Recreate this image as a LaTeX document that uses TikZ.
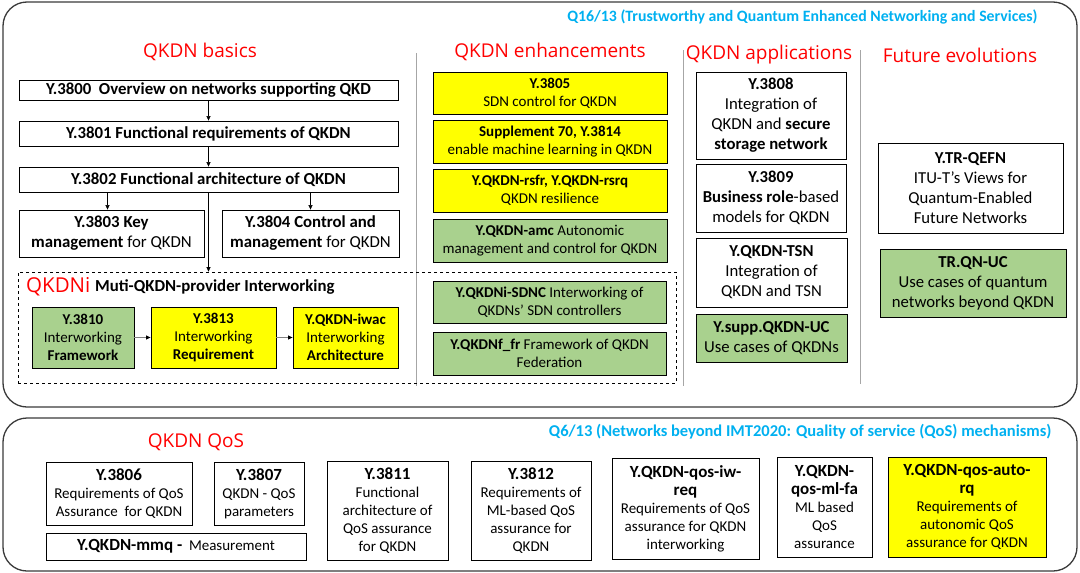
\documentclass[tikz,border=0pt]{standalone}
\usepackage{fontspec}
\setmainfont{Carlito}
\newfontfamily\hdfont{Open Sans}
\usetikzlibrary{arrows.meta,calc}
\definecolor{qyellow}{HTML}{FFFF00}
\definecolor{qgreen}{HTML}{A9D18E}
\definecolor{qblue}{HTML}{00B0F0}
\definecolor{qred}{HTML}{FF0000}
\definecolor{qframe}{HTML}{3A3A3A}
\definecolor{qsep}{HTML}{A6A6A6}
\newcommand\bx[7]{\node[#6, minimum width={#4-#2}, minimum height={#5-#3}] (#1) at ({(#2+#4)/2},{(#3+#5)/2}) {#7};}
\newcommand\qt[1]{{\fontsize{17}{18}\selectfont\textbf{#1}}}
\tikzset{
  box/.style={draw=black, line width=0.8pt, fill=white, inner sep=0pt, align=center},
  yel/.style={box, fill=qyellow},
  grn/.style={box, fill=qgreen},
  fone/.style={font=\fontsize{16.8}{20}\selectfont\bfseries},
  ftwo/.style={font=\fontsize{16.8}{20}\selectfont},
  fenh/.style={font=\fontsize{15}{18}\selectfont},
  fapp/.style={font=\fontsize{16.7}{20}\selectfont},
  fqos/.style={font=\fontsize{15}{18}\selectfont},
  hd/.style={text=qred, font=\hdfont\fontsize{19}{22}\selectfont},
  qtitle/.style={text=qblue, font=\fontsize{15.8}{17}\selectfont\bfseries, anchor=east},
  frame/.style={draw=qframe, line width=1.3pt, rounded corners=24pt},
  sep/.style={draw=qsep, line width=0.9pt},
  arr/.style={draw=black, line width=0.6pt, -{Triangle[length=4.5pt,width=4pt]}},
  garr/.style={draw=gray, line width=1pt, -{Triangle[length=4.5pt,width=4pt,black]}},
}
\begin{document}
\begin{tikzpicture}[x=1pt,y=-1pt]
\useasboundingbox (0,0) rectangle (1080,573);
% frames
\draw[frame] (3,2) rectangle (1077,407);
\draw[frame] (3,418) rectangle (1077,571);
\node[qtitle] (t16) at (1041,17) {Q16/13 (Trustworthy and Quantum Enhanced Networking and Services)};
\node[qtitle, font=\fontsize{16.5}{18}\selectfont\bfseries] (t6) at (1055,432) {Q6/13 (Networks beyond IMT2020: Quality of service (QoS) mechanisms)};
% separators
\draw[sep] (416,53) -- (416,386);
\draw[sep] (683,50) -- (683,386);
\draw[sep] (860,50) -- (860,384);
% headers
\node[hd] (hbasic) at (200,52) {QKDN basics};
\node[hd] (henh) at (550,52) {QKDN enhancements};
\node[hd] (happ) at (769,55) {QKDN applications};
\node[hd] (hfut) at (960,55) {Future evolutions};
\node[hd] (hqos) at (196,442) {QKDN QoS};
% basics
\bx{y3800}{19}{80}{398}{100}{box,fone}{Y.3800\ \ Overview on networks supporting QKD}
\bx{y3801}{19}{121}{398}{146}{box,fone}{Y.3801 Functional requirements of QKDN}
\bx{y3802}{19}{167}{398}{192}{box,fone}{Y.3802 Functional architecture of QKDN}
\bx{y3803}{19}{210}{204}{257}{box,ftwo}{\textbf{Y.3803 Key}\\\textbf{management} for QKDN}
\bx{y3804}{222}{210}{399}{257}{box,ftwo}{\textbf{Y.3804 Control and}\\\textbf{management} for QKDN}
\draw[arr] (y3800) -- (y3801);
\draw[arr] (y3801) -- (y3802);
\draw[arr] ([xshift=-4pt]y3803.north |- y3802.south) -- ([xshift=-4pt]y3803.north);
\draw[arr] (y3804.north |- y3802.south) -- (y3804.north);
% interworking dashed box
\node[draw=black, dashed, line width=0.7pt, minimum width=658, minimum height=111, inner sep=0pt] (dbox) at (347,327.5) {};
\draw[arr] (y3802.south) -- (y3802.south |- dbox.north);
\node[text=qred, font=\hdfont\fontsize{20.5}{22}\selectfont, anchor=west, inner sep=0pt] (qkdni) at (26,287) {QKDNi};
\node[font=\fontsize{16.8}{18}\selectfont\bfseries, anchor=west, inner sep=0pt] (muti) at (95,287) {Muti-QKDN-provider Interworking};
\bx{y3810}{32}{307}{134}{368}{grn,fenh}{\textbf{Y.3810}\\Interworking\\\textbf{Framework}}
\bx{y3813}{151}{307}{276}{368}{yel,fenh}{\textbf{Y.3813}\\Interworking\\\textbf{Requirement}}
\bx{iwac}{293}{307}{398}{368}{yel,fenh}{\textbf{Y.QKDN-iwac}\\Interworking\\\textbf{Architecture}}
\draw[garr] (y3810) -- (y3813);
\draw[garr] (y3813) -- (iwac);
% enhancements
\bx{y3805}{433}{72}{667}{114}{yel,fenh}{\textbf{Y.3805}\\SDN control for QKDN}
\bx{sup70}{433}{120}{667}{163}{yel,fenh}{\textbf{Supplement 70, Y.3814}\\enable machine learning in QKDN}
\bx{rsfr}{433}{169}{667}{212}{yel,fenh}{\textbf{Y.QKDN-rsfr, Y.QKDN-rsrq}\\QKDN resilience}
\bx{amc}{433}{219}{667}{262}{grn,fenh}{\textbf{Y.QKDN-amc} Autonomic\\management and control for QKDN}
\bx{sdnc}{433}{281}{666}{323}{grn,fenh}{\textbf{Y.QKDNi-SDNC} Interworking of\\QKDNs’ SDN controllers}
\bx{fedr}{433}{332}{666}{375}{grn,fenh}{\textbf{Y.QKDNf\_fr} Framework of QKDN\\Federation}
% applications
\bx{y3808}{696}{72}{846}{159}{box,fapp}{\textbf{Y.3808}\\Integration of\\QKDN and \textbf{secure}\\\textbf{storage network}}
\bx{y3809}{696}{164}{846}{232}{box,fapp}{\textbf{Y.3809}\\\textbf{Business role}-based\\models for QKDN}
\bx{tsn}{696}{238}{847}{307}{box,fapp}{\textbf{Y.QKDN-TSN}\\Integration of\\QKDN and TSN}
\bx{suppuc}{696}{314}{847}{362}{grn,fapp}{\textbf{Y.supp.QKDN-UC}\\Use cases of QKDNs}
% future
\bx{qefn}{878}{143}{1063}{233}{box,fapp}{\textbf{Y.TR-QEFN}\\ITU-T's Views for\\Quantum-Enabled\\Future Networks}
\bx{qnuc}{880}{249}{1066}{317}{grn,fapp}{\textbf{TR.QN-UC}\\Use cases of quantum\\networks beyond QKDN}
% QoS
\bx{y3806}{46}{462}{192}{525}{box,fqos}{\qt{Y.3806}\\Requirements of QoS\\Assurance\ \ for QKDN}
\bx{y3807}{214}{462}{304}{525}{box,fqos}{\qt{Y.3807}\\QKDN - QoS\\parameters}
\bx{mmq}{46}{533}{306}{560}{box,fqos}{\qt{Y.QKDN-mmq -}\ \ Measurement}
\bx{y3811}{327}{461}{448}{560}{box,fqos}{\qt{Y.3811}\\Functional\\architecture of\\QoS assurance\\for QKDN}
\bx{y3812}{471}{461}{591}{560}{box,fqos}{\qt{Y.3812}\\Requirements of\\ML-based QoS\\assurance for\\QKDN}
\bx{qosiw}{612}{458}{759}{559}{box,fqos}{\qt{Y.QKDN-qos-iw-}\\\qt{req}\\Requirements of QoS\\assurance for QKDN\\interworking}
\bx{qosml}{777}{457}{872}{557}{box,fqos}{\qt{Y.QKDN-}\\\qt{qos-ml-fa}\\ML based\\QoS\\assurance}
\bx{qosauto}{888}{457}{1046}{557}{yel,fqos}{\qt{Y.QKDN-qos-auto-}\\\qt{rq}\\Requirements of\\autonomic QoS\\assurance for QKDN}
\end{tikzpicture}
\end{document}
